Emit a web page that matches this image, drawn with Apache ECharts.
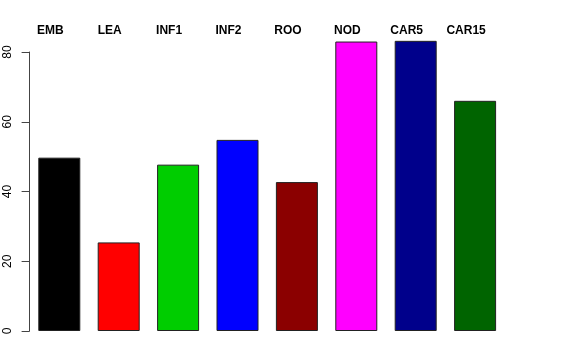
<!DOCTYPE html>
<html>
<head>
<meta charset="utf-8">
<script src="https://cdn.jsdelivr.net/npm/echarts@6/dist/echarts.min.js"></script>
<style>html,body{margin:0;padding:0;background:#fff;}#c{width:576px;height:360px;}</style>
</head>
<body>
<div id="c"></div>
<script>
const categories = ['EMB', 'LEA', 'INF1', 'INF2', 'ROO', 'NOD', 'CAR5', 'CAR15'];
const values = [49.7, 25.4, 47.7, 54.8, 42.7, 83.0, 83.2, 66.0];
const colors = ['#000000', '#FF0000', '#00CD00', '#0000FF', '#8B0000', '#FF00FF', '#00008B', '#006400'];
const yTicks = [0, 20, 40, 60, 80];

const chart = echarts.init(document.getElementById('c'), null, {renderer: 'canvas'});
chart.setOption({
  animation: false,
  grid: {left: 29.6, right: 71.2, top: 52, bottom: 29},
  xAxis: {
    type: 'category',
    position: 'top',
    data: categories,
    axisLine: {show: false},
    axisTick: {show: false},
    axisLabel: {
      fontFamily: 'Liberation Sans, Arial, sans-serif',
      fontWeight: 'bold', fontSize: 12, color: '#000',
      margin: 15, padding: [0, 18, 0, 0]
    }
  },
  yAxis: {
    type: 'value',
    min: yTicks[0], max: yTicks[yTicks.length - 1], interval: 20,
    splitLine: {show: false},
    axisLine: {show: true, lineStyle: {color: '#444', width: 1}},
    axisTick: {show: true, length: 8, lineStyle: {color: '#444'}},
    axisLabel: {
      rotate: 90, fontFamily: 'Liberation Sans, Arial, sans-serif',
      fontSize: 12, color: '#000', margin: 16
    }
  },
  series: [{
    type: 'bar',
    clip: false,
    barWidth: 42,
    data: values.map((v, i) => ({value: v, itemStyle: {color: colors[i]}})),
    itemStyle: {borderColor: '#222', borderWidth: 1}
  }]
});
</script>
</body>
</html>
